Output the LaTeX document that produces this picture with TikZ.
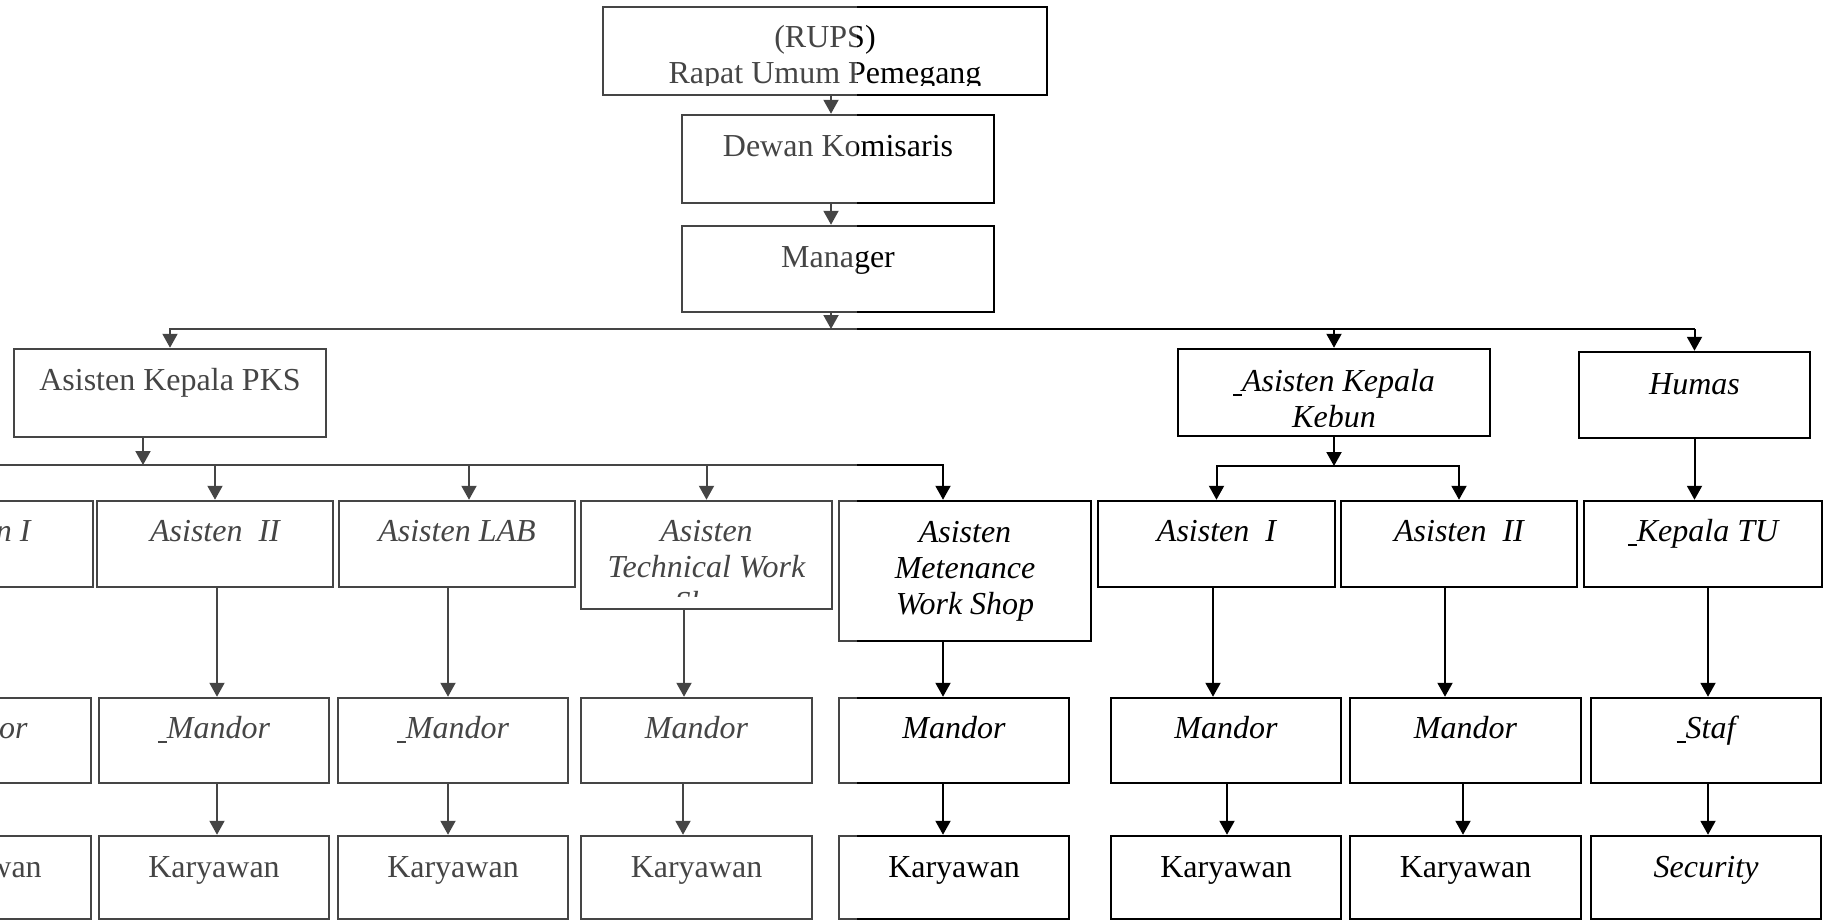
\documentclass[tikz,border=0pt]{standalone}
\usepackage{fontspec}
\setmainfont{Liberation Serif}
\usetikzlibrary{arrows.meta,positioning}
\definecolor{abu}{RGB}{69,69,69}
\newcommand{\ukuran}{\fontsize{32}{36}\selectfont}
\newcommand{\garis}{\rule[-5pt]{9pt}{2pt}}

% seluruh bagan, digambar dua kali (kiri abu-abu, kanan hitam)
\newcommand{\bagan}{%
    % RUPS, Dewan Komisaris, Manager
    \node[kotak, minimum width=444pt, minimum height=88pt] (rups) at (825,51) {};
    \begin{scope}
      \clip (rups.north west) rectangle (1047,85);
      \node[kotak, draw=none, anchor=base] (rupsteks) at (825,83) {(RUPS)\\Rapat Umum Pemegang};
    \end{scope}
    \node[kotak, minimum width=312pt, minimum height=88pt, text height=41pt, text depth=47pt] (dewan) at (838,159) {Dewan Komisaris};
    \node[kotak, minimum width=312pt, minimum height=86pt, text height=41pt, text depth=45pt] (mgr) at (838,269) {Manager};
    % Asisten Kepala PKS, Asisten Kepala Kebun, Humas
    \node[kotak, minimum width=312pt, minimum height=88pt, text height=41pt, text depth=47pt] (pks) at (170,393) {Asisten Kepala PKS};
    \node[kotak, minimum width=312pt, minimum height=87pt] (kebun) at (1334,392.5) {};
    \begin{scope}
      \clip (kebun.north west) rectangle (1490,426);
      \node[kotak, miring, draw=none, anchor=base] (kebunteks) at (1334,427) {\garis Asisten Kepala\\Kebun};
    \end{scope}
    \node[kotak, miring, minimum width=231pt, minimum height=86pt, text height=42pt, text depth=44pt] (humas) at (1694.5,395) {Humas};
    % Asisten
    \node[kotak, miring, baris3, minimum width=236pt] (as1) at (-25,544) {Asisten I};
    \node[kotak, miring, baris3, minimum width=236pt] (as2) at (215,544) {Asisten\ \ II};
    \node[kotak, miring, baris3, minimum width=236pt] (lab) at (457,544) {Asisten LAB};
    \node[kotak, minimum width=251pt, minimum height=108pt] (tws) at (706.5,555) {};
    \begin{scope}
      \clip (tws.north west) rectangle (832,596);
      \node[kotak, miring, draw=none, anchor=base] (twsteks) at (706.5,613) {Asisten\\Technical Work\\Shop};
    \end{scope}
    \node[kotak, miring, minimum width=252pt, minimum height=140pt, text height=113pt, text depth=27pt] (mws) at (965,571) {Asisten\\Metenance\\Work Shop};
    \node[kotak, miring, baris3, minimum width=237pt] (ak1) at (1216.5,544) {Asisten\ \ I};
    \node[kotak, miring, baris3, minimum width=236pt] (ak2) at (1459,544) {Asisten\ \ II};
    \node[kotak, miring, baris3, minimum width=238pt] (ktu) at (1703,544) {\garis Kepala TU};
    % Mandor
    \node[kotak, miring, baris4, minimum width=230pt] (md1) at (-24,740.5) {Mandor};
    \node[kotak, miring, baris4, minimum width=230pt] (md2) at (214,740.5) {\garis Mandor};
    \node[kotak, miring, baris4, minimum width=230pt] (md3) at (453,740.5) {\garis Mandor};
    \node[kotak, miring, baris4, minimum width=231pt] (md4) at (696.5,740.5) {Mandor};
    \node[kotak, miring, baris4, minimum width=230pt] (md5) at (954,740.5) {Mandor};
    \node[kotak, miring, baris4, minimum width=230pt] (mk1) at (1226,740.5) {Mandor};
    \node[kotak, miring, baris4, minimum width=231pt] (mk2) at (1465.5,740.5) {Mandor};
    \node[kotak, miring, baris4, minimum width=230pt] (staf) at (1706,740.5) {\garis Staf};
    % Karyawan
    \node[kotak, baris5, minimum width=230pt] (kr1) at (-24,877.5) {Karyawan};
    \node[kotak, baris5, minimum width=230pt] (kr2) at (214,877.5) {Karyawan};
    \node[kotak, baris5, minimum width=230pt] (kr3) at (453,877.5) {Karyawan};
    \node[kotak, baris5, minimum width=231pt] (kr4) at (696.5,877.5) {Karyawan};
    \node[kotak, baris5, minimum width=230pt] (kr5) at (954,877.5) {Karyawan};
    \node[kotak, baris5, minimum width=230pt] (kk1) at (1226,877.5) {Karyawan};
    \node[kotak, baris5, minimum width=231pt] (kk2) at (1465.5,877.5) {Karyawan};
    \node[kotak, miring, baris5, minimum width=230pt] (sec) at (1706,877.5) {Security};
    % Simpang garis
    \coordinate (simpang1) at (831,329);
    \coordinate (simpang2) at (143,465);
    \coordinate (simpang3) at (1334,466);
    % Garis atas
    \draw[panah] (rups.south -| simpang1) -- (dewan.north -| simpang1);
    \draw[panah] (dewan.south -| simpang1) -- (mgr.north -| simpang1);
    \draw[panah] (mgr.south -| simpang1) -- (simpang1);
    \draw[panah] (simpang1 -| humas.north) -- (simpang1 -| pks.north) -- (pks.north);
    \draw[panah] (simpang1 -| humas.north) -- (humas.north);
    \draw[panah] (simpang1 -| kebun.north) -- (kebun.north);
    % PKS ke asisten
    \draw[panah] (pks.south -| simpang2) -- (simpang2);
    \draw[panah] (simpang2 -| as1.north) -- (simpang2 -| 943,0) -- (mws.north -| 943,0);
    \draw[panah] (simpang2 -| as2.north) -- (as2.north);
    \draw[panah] (simpang2 -| 469,0) -- (lab.north -| 469,0);
    \draw[panah] (simpang2 -| tws.north) -- (tws.north);
    % Kebun ke asisten
    \draw[panah] (kebun.south) -- (simpang3);
    \draw[panah] (simpang3) -| (ak1.north);
    \draw[panah] (simpang3) -| (ak2.north);
    \draw[panah] (humas.south) -- (humas.south |- ktu.north);
    % Asisten ke mandor
    \draw[panah] (as2.south -| 217,0) -- (md2.north -| 217,0);
    \draw[panah] (lab.south -| 448,0) -- (md3.north -| 448,0);
    \draw[panah] (tws.south -| 684,0) -- (md4.north -| 684,0);
    \draw[panah] (mws.south -| 943,0) -- (md5.north -| 943,0);
    \draw[panah] (ak1.south -| 1213,0) -- (mk1.north -| 1213,0);
    \draw[panah] (ak2.south -| 1445,0) -- (mk2.north -| 1445,0);
    \draw[panah] (ktu.south -| 1708,0) -- (staf.north -| 1708,0);
    % Mandor ke karyawan
    \draw[panah] (md2.south -| 217,0) -- (kr2.north -| 217,0);
    \draw[panah] (md3.south -| 448,0) -- (kr3.north -| 448,0);
    \draw[panah] (md4.south -| 683,0) -- (kr4.north -| 683,0);
    \draw[panah] (md5.south -| 943,0) -- (kr5.north -| 943,0);
    \draw[panah] (mk1.south -| 1227,0) -- (kk1.north -| 1227,0);
    \draw[panah] (mk2.south -| 1463,0) -- (kk2.north -| 1463,0);
    \draw[panah] (staf.south -| 1708,0) -- (sec.north -| 1708,0);
}

\begin{document}
\begin{tikzpicture}[x=1pt, y=-1pt,
    kotak/.style={draw, rectangle, inner sep=0pt, line width=2.5pt, font=\ukuran, align=center},
    miring/.style={font=\ukuran\itshape},
    panah/.style={-{Triangle[length=14pt,width=15pt]}, line width=2pt},
    baris3/.style={minimum height=86pt, text height=40pt, text depth=46pt},
    baris4/.style={minimum height=85pt, text height=40pt, text depth=45pt},
    baris5/.style={minimum height=83pt, text height=41pt, text depth=42pt}]
    \useasboundingbox (0,0) rectangle (1823,921);
    % bagian kiri tercetak abu-abu
    \begin{scope}[color=abu]
      \clip (0,0) rectangle (857,921);
      \bagan
    \end{scope}
    % bagian kanan hitam
    \begin{scope}
      \clip (857,0) rectangle (1823,921);
      \bagan
    \end{scope}
\end{tikzpicture}
\end{document}
